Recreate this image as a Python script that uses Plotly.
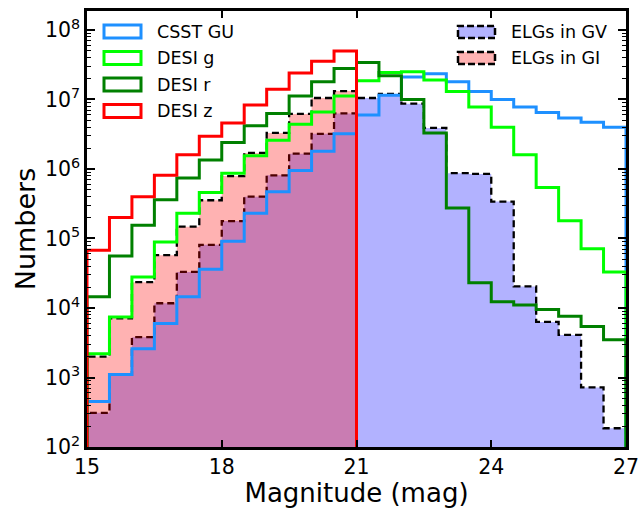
import numpy as np
import plotly.graph_objects as go

# ---- data (counts per 0.5-mag bin) ----
bin_edges = [15 + 0.5 * i for i in range(25)]

csst_gu = [450, 1100, 2600, 6000, 14500, 36000, 91000, 2.3e5, 4.7e5, 9.5e5, 1.8e6, 3.2e6,
           6.0e6, 1.15e7, 2.1e7, 2.35e7, 1.8e7, 1.3e7, 1.0e7, 7.8e6, 6.5e6, 5.4e6, 4.7e6, 4.0e6]
desi_g = [2200, 7400, 28000, 89000, 2.3e5, 4.6e5, 8.7e5, 1.55e6, 2.6e6, 4.4e6, 6.6e6, 1.12e7,
          1.86e7, 2.45e7, 2.5e7, 1.9e7, 1.3e7, 7.8e6, 4.0e6, 1.6e6, 5.4e5, 1.8e5, 71000, 33000]
desi_r = [14500, 56000, 1.55e5, 3.6e5, 7.4e5, 1.35e6, 2.4e6, 4.2e6, 6.3e6, 1.12e7, 1.8e7, 2.8e7,
          3.4e7, 2.2e7, 1.0e7, 3.3e6, 2.75e5, 23000, 12300, 11000, 9500, 7600, 5400, 3500]
desi_z = [68000, 2.0e5, 4.0e5, 8.1e5, 1.6e6, 2.95e6, 4.6e6, 8.3e6, 1.4e7, 2.4e7, 3.55e7, 5.0e7,
          0, 0, 0, 0, 0, 0, 0, 0, 0, 0, 0, 0]
elg_gi = [2000, 7100, 23500, 57500, 1.48e5, 3.55e5, 7.9e5, 1.7e6, 3.3e6, 6.2e6, 1.05e7, 1.32e7,
          0, 0, 0, 0, 0, 0, 0, 0, 0, 0, 0, 0]
elg_gv = [310, 1100, 3800, 11700, 33000, 81000, 1.78e5, 4.0e5, 8.1e5, 1.66e6, 3.2e6, 6.3e6,
          1.05e7, 1.2e7, 8.7e6, 3.9e6, 8.7e5, 8.5e5, 3.4e5, 20400, 6300, 4100, 720, 186]

x_ticks = [15, 18, 21, 24, 27]
y_exps = [2, 3, 4, 5, 6, 7, 8]

FLOOR = 1.0  # below visible range, used for zero counts / baseline


def step_path(edges, counts):
    xs, ys = [edges[0]], [FLOOR]
    for i, c in enumerate(counts):
        v = c if c > 0 else FLOOR
        xs += [edges[i], edges[i + 1]]
        ys += [v, v]
    xs.append(edges[-1])
    ys.append(FLOOR)
    return xs, ys


fig = go.Figure()

# filled ELG histograms
for counts, fillc in [(elg_gv, "rgba(0,0,255,0.3)"), (elg_gi, "rgba(255,0,0,0.3)")]:
    xs, ys = step_path(bin_edges, counts)
    fig.add_trace(go.Scatter(x=xs, y=ys, mode="lines", fill="toself", fillcolor=fillc,
                             line=dict(color="black", width=2.3, dash="7px,4px"),
                             showlegend=False, hoverinfo="skip"))

# step outlines
line_specs = [(csst_gu, "#1E90FF"), (desi_g, "#00FF00"), (desi_r, "#008000"), (desi_z, "#FF0000")]
for counts, col in line_specs:
    xs, ys = step_path(bin_edges, counts)
    fig.add_trace(go.Scatter(x=xs, y=ys, mode="lines", line=dict(color=col, width=3),
                             showlegend=False, hoverinfo="skip"))

L, R, T, B = 87, 13, 11, 61
W, H = 639, 508
pw, ph = W - L - R, H - T - B


def px2paper(px, py):
    return (px - L) / pw, (H - B - py) / ph


shapes = []
annotations = []
font_fam = "DejaVu Sans"
# left legend
left_items = [("CSST GU", "#1E90FF"), ("DESI g", "#00FF00"), ("DESI r", "#008000"), ("DESI z", "#FF0000")]
for i, (lab, col) in enumerate(left_items):
    cy = 31.5 + 26.5 * i
    x0, y0 = px2paper(104, cy + 6.5)
    x1, y1 = px2paper(141, cy - 6.5)
    shapes.append(dict(type="rect", xref="paper", yref="paper", x0=x0, x1=x1, y0=y0, y1=y1,
                       line=dict(color=col, width=3), fillcolor="rgba(0,0,0,0)"))
    tx, ty = px2paper(155, cy)
    annotations.append(dict(text=lab, xref="paper", yref="paper", x=tx, y=ty, xanchor="left",
                            yanchor="middle", showarrow=False, font=dict(size=17.5, color="black", family=font_fam)))
# right legend
right_items = [("ELGs in GV", "#B3B3FF"), ("ELGs in GI", "#FFB3B3")]
for i, (lab, col) in enumerate(right_items):
    cy = 32 + 26 * i
    x0, y0 = px2paper(458, cy + 6)
    x1, y1 = px2paper(495, cy - 6)
    shapes.append(dict(type="rect", xref="paper", yref="paper", x0=x0, x1=x1, y0=y0, y1=y1,
                       line=dict(color="black", width=2.5, dash="7px,3px"), fillcolor=col))
    tx, ty = px2paper(509, cy)
    annotations.append(dict(text=lab, xref="paper", yref="paper", x=tx, y=ty, xanchor="left",
                            yanchor="middle", showarrow=False, font=dict(size=17.5, color="black", family=font_fam)))

minor_vals = [m * 10 ** e for e in range(1, 9) for m in range(2, 10)]

fig.update_layout(
    width=W, height=H,
    margin=dict(l=L, r=R, t=T, b=B, autoexpand=False),
    paper_bgcolor="white", plot_bgcolor="white",
    font=dict(family=font_fam, color="black"),
    shapes=shapes, annotations=annotations,
    showlegend=False,
)
fig.update_xaxes(
    range=[15, 27], tickvals=x_ticks, ticktext=[str(v) for v in x_ticks],
    ticks="inside", ticklen=7, tickwidth=1.5, tickcolor="black",
    showline=True, linewidth=2.5, linecolor="black", mirror="ticks",
    showgrid=False, zeroline=False, automargin=False, ticklabeloverflow="allow",
    tickfont=dict(size=20.5, family=font_fam),
    title=dict(text="Magnitude (mag)", font=dict(size=26, family=font_fam), standoff=0),
)
fig.update_yaxes(
    type="log", range=[2, 8.273],
    tickvals=[10 ** e for e in y_exps], ticktext=[f"10<sup>{e}</sup>" for e in y_exps],
    ticks="inside", ticklen=8, tickwidth=1.5, tickcolor="black",
    minor=dict(tickmode="array", tickvals=minor_vals, ticks="inside", ticklen=4, tickwidth=1.2, tickcolor="black", showgrid=False),
    showline=True, linewidth=2.5, linecolor="black", mirror="ticks",
    showgrid=False, zeroline=False, automargin=False, ticklabeloverflow="allow",
    tickfont=dict(size=20.5, family=font_fam),
    title=dict(text="Numbers", font=dict(size=27, family=font_fam), standoff=2),
)

fig.write_html("out.html", config={"displayModeBar": False},
               post_script="document.body.style.margin='0px';document.body.style.overflow='hidden';")
